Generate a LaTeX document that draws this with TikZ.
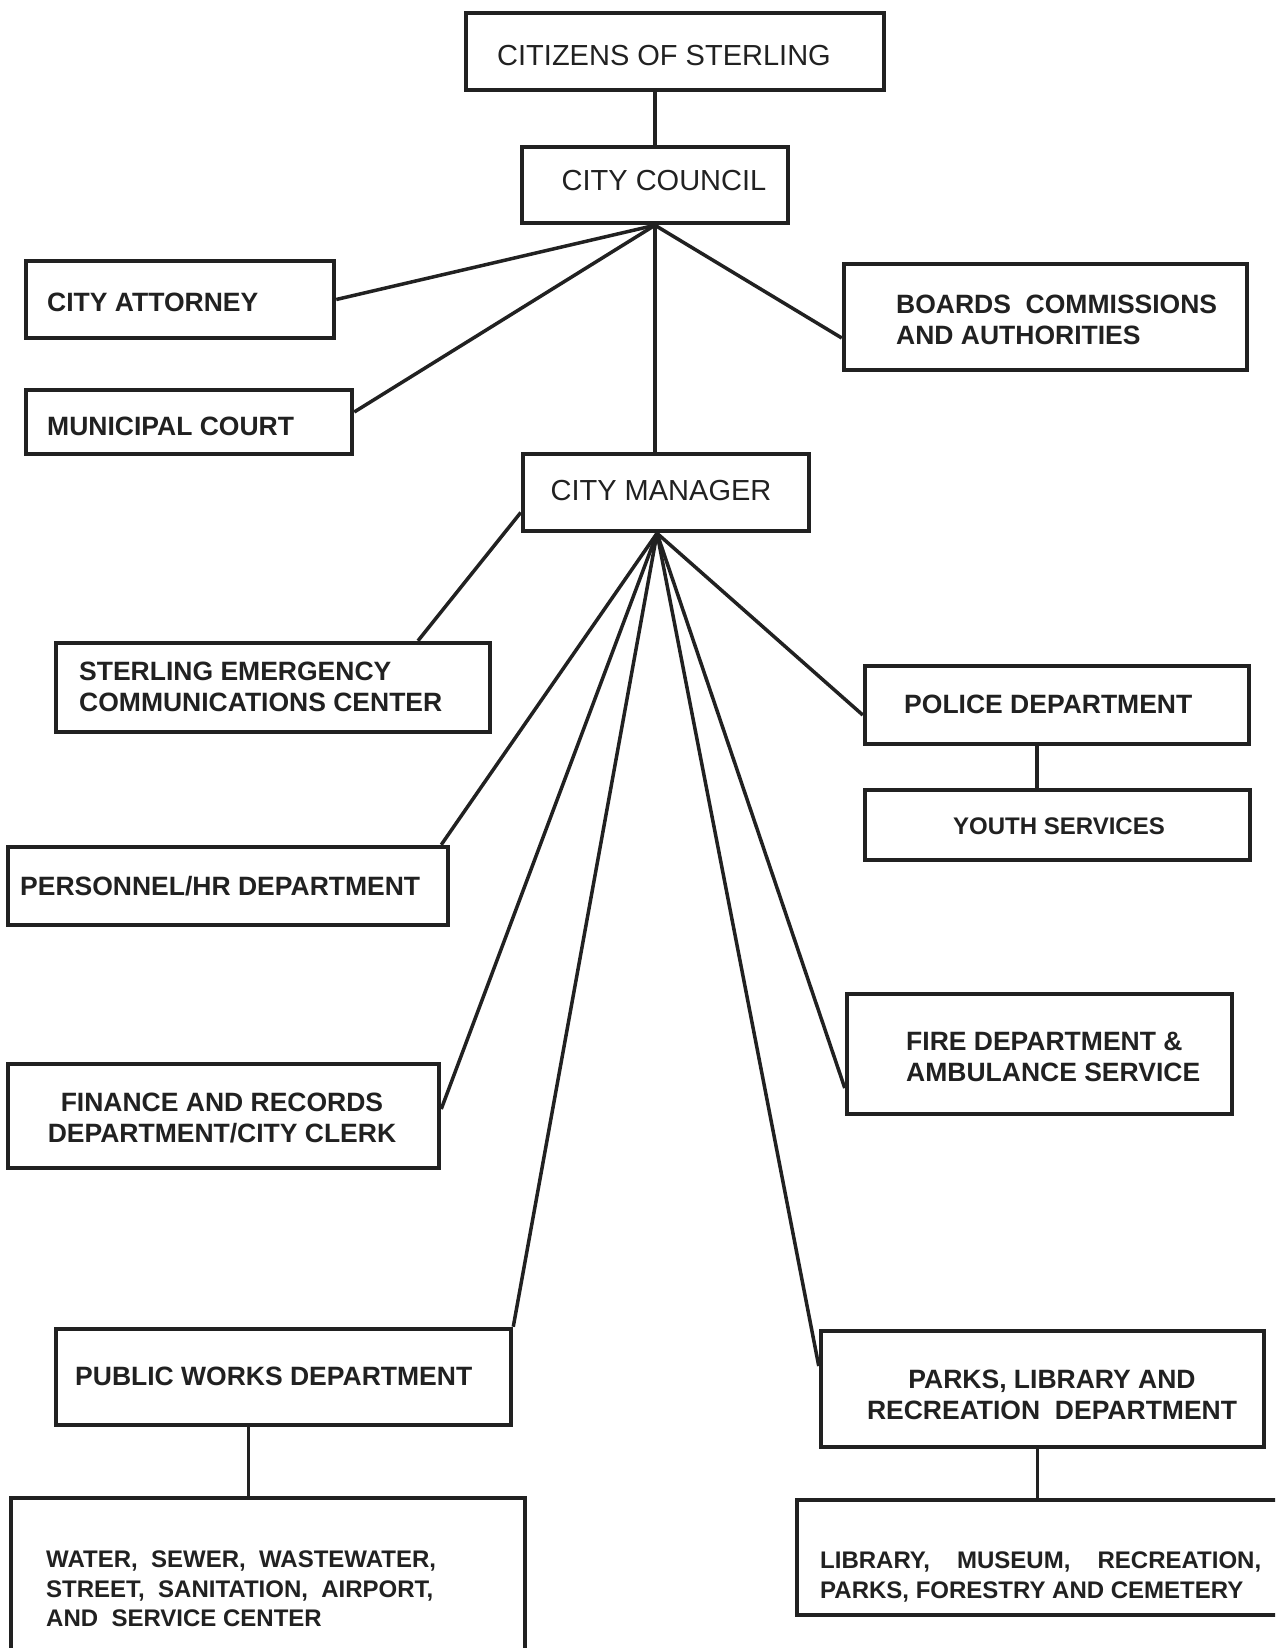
\documentclass[tikz,border=0pt]{standalone}
\usepackage{fontspec}
\setmainfont{Liberation Sans}
\usetikzlibrary{fit,calc}
\definecolor{ink}{gray}{0.13}
\begin{document}
\begin{tikzpicture}[x=1pt,y=-1pt,
  box/.style={draw=ink, line width=4.5pt, inner sep=0pt, rectangle},
  conn/.style={draw=ink, line width=3.5pt},
  big/.style={text=ink, font=\fontsize{29}{34}\selectfont, inner sep=0pt},
  lbl/.style={text=ink, font=\fontsize{26.5}{31.5}\selectfont\bfseries, inner sep=0pt},
  sml/.style={text=ink, font=\fontsize{24}{29.5}\selectfont\bfseries, inner sep=0pt, align=left}]
\useasboundingbox (0,0) rectangle (1275,1648);
\clip (0,0) rectangle (1275,1648);
\fill[white] (0,0) rectangle (1275,1648);

% boxes
\node[box, fit={(466,13) (884,90)}] (cit) {};
\node[box, fit={(522,147) (788,223)}] (council) {};
\node[box, fit={(26,261) (334,338)}] (att) {};
\node[box, fit={(26,390) (352,454)}] (mun) {};
\node[box, fit={(844,264) (1247,370)}] (boards) {};
\node[box, fit={(523,454) (809,531)}] (mgr) {};
\node[box, fit={(56,643) (490,732)}] (secc) {};
\node[box, fit={(865,666) (1249,744)}] (police) {};
\node[box, fit={(865,790) (1250,860)}] (youth) {};
\node[box, fit={(8,847) (448,925)}] (pers) {};
\node[box, fit={(847,994) (1232,1114)}] (fire) {};
\node[box, fit={(8,1064) (439,1168)}] (fin) {};
\node[box, fit={(56,1329) (511,1425)}] (pw) {};
\node[box, fit={(821,1331) (1264,1447)}] (parks) {};
\node[box, fit={(11,1498) (525,1670)}] (water) {};
\node[box, fit={(797,1500) (1290,1615)}] (lib) {};

% labels
\node[big, anchor=base] (citT) at (664,66) {CITIZENS OF STERLING};
\node[big, anchor=base] (councilT) at (664,191) {CITY COUNCIL};
\node[big, anchor=base] (mgrT) at (661,500) {CITY MANAGER};
\node[lbl, anchor=west] (attT) at (47,302) {CITY ATTORNEY};
\node[lbl, anchor=west] (munT) at (47,426) {MUNICIPAL COURT};
\node[lbl, anchor=west, align=left] (boardsT) at (896,320) {BOARDS\ \ COMMISSIONS\\AND AUTHORITIES};
\node[lbl, anchor=west, align=left] (seccT) at (79,687) {STERLING EMERGENCY\\COMMUNICATIONS CENTER};
\node[lbl, anchor=west] (policeT) at (904,704) {POLICE DEPARTMENT};
\node[sml, anchor=west] (youthT) at (953,826) {YOUTH SERVICES};
\node[lbl, anchor=west] (persT) at (20,886) {PERSONNEL/HR DEPARTMENT};
\node[lbl, anchor=west, align=left] (fireT) at (906,1057) {FIRE DEPARTMENT \&\\AMBULANCE SERVICE};
\node[lbl, align=center] (finT) at (222,1118) {FINANCE AND RECORDS\\DEPARTMENT/CITY CLERK};
\node[lbl, anchor=west] (pwT) at (75,1376) {PUBLIC WORKS DEPARTMENT};
\node[lbl, align=center] (parksT) at (1052,1395) {PARKS, LIBRARY AND\\RECREATION\ \ DEPARTMENT};
\node[sml, anchor=west] (waterT) at (46,1589) {WATER,\ \ SEWER,\ \ WASTEWATER,\\STREET,\ \ SANITATION,\ \ AIRPORT,\\AND\ \ SERVICE CENTER};
\node[sml, anchor=west] (libT) at (820,1577) {\makebox[441pt][s]{LIBRARY, MUSEUM, RECREATION,}\\PARKS, FORESTRY AND CEMETERY};

% connectors
\draw[conn] (council.north |- cit.south) -- (council.north);
\draw[conn] (council.south) -- (council.south |- mgr.north);
\draw[conn] (council.south) -- (att.east);
\draw[conn] (council.south) -- ([yshift=10pt]mun.east);
\draw[conn] (council.south) -- ([yshift=-21pt]boards.west);
\coordinate (hub) at ([xshift=-9pt]mgr.south);
\draw[conn] ([yshift=-20pt]mgr.west) -- ([xshift=145pt]secc.north);
\draw[conn] (hub) -- ([xshift=-9pt]pers.north east);
\draw[conn] (hub) -- ([yshift=7pt]fin.east);
\draw[conn] (hub) -- (pw.north east);
\draw[conn] (hub) -- ([yshift=23pt]parks.west);
\draw[conn] (hub) -- ([yshift=-34pt]fire.west);
\draw[conn] (hub) -- ([yshift=-10pt]police.west);
\draw[conn] ([xshift=-20pt]police.south) -- ([xshift=-20pt]police.south |- youth.north);
\draw[conn] ([xshift=-35pt]pw.south) -- ([xshift=-35pt]pw.south |- water.north);
\draw[conn] ([xshift=-5pt]parks.south) -- ([xshift=-5pt]parks.south |- lib.north);
\end{tikzpicture}
\end{document}
